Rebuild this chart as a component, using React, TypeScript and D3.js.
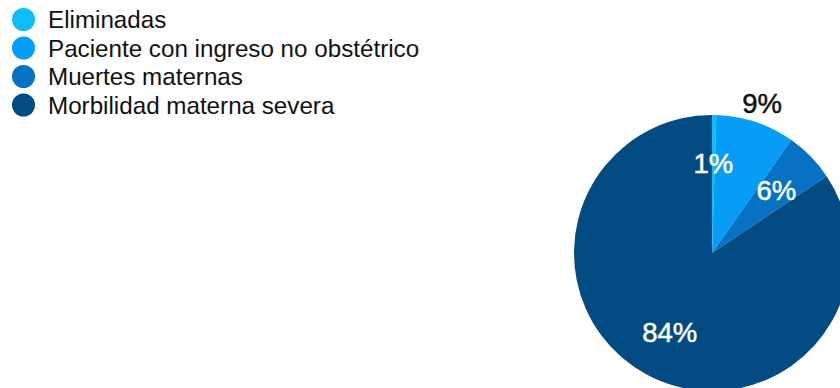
import React from "react";
import * as d3 from "d3";

const categories = ["Eliminadas", "Paciente con ingreso no obstétrico", "Muertes maternas", "Morbilidad materna severa"];
const values = [0.5, 9.25, 5.85, 84.4];
const colors = ["#0DBDF8", "#079CF6", "#0772C4", "#034B83"];
const labelOutside = [false, true, false, false];

const W = 840;
const H = 388;

export default function App() {
  const cx = 712;
  const cy = 253;
  const r = 138;
  const total = d3.sum(values);
  const pie = d3.pie<number>().sort(null).value((d) => d);
  const arcs = pie(values);
  const arcGen = d3.arc<d3.PieArcDatum<number>>().innerRadius(0).outerRadius(r);
  const inLabel = d3.arc<d3.PieArcDatum<number>>().innerRadius(90).outerRadius(90);
  const outLabel = d3.arc<d3.PieArcDatum<number>>().innerRadius(158).outerRadius(158);
  const legendY = d3.scalePoint<number>().domain(d3.range(categories.length)).range([19.5, 105]);
  const font = "'Liberation Sans', Arial, Helvetica, sans-serif";

  return (
    <svg width={W} height={H} style={{ position: "absolute", left: 0, top: 0 }} fontFamily={font}>
      <rect width={W} height={H} fill="#fff" />
      <g transform={`translate(${cx},${cy})`}>
        {arcs.map((a, i) => (
          <path key={i} d={arcGen(a) || ""} fill={colors[i]} />
        ))}
        {arcs.map((a, i) => {
          const [x, y] = (labelOutside[i] ? outLabel : inLabel).centroid(a);
          const fill = labelOutside[i] ? "#111" : "#fff";
          return (
            <text
              key={i}
              x={x}
              y={y}
              textAnchor="middle"
              dominantBaseline="central"
              fontSize={27.5}
              fill={fill}
              stroke={fill}
              strokeWidth={0.5}
            >
              {Math.round((a.data / total) * 100)}%
            </text>
          );
        })}
      </g>
      <g>
        {categories.map((c, i) => (
          <g key={c} transform={`translate(0,${legendY(i)})`}>
            <circle cx={23.5} cy={0} r={11.5} fill={colors[i]} />
            <text x={48} y={0} dominantBaseline="central" fontSize={24.2} fill="#111">
              {c}
            </text>
          </g>
        ))}
      </g>
    </svg>
  );
}
